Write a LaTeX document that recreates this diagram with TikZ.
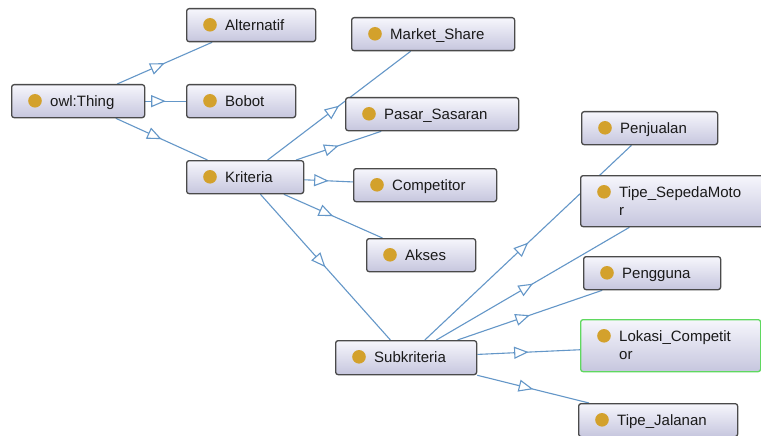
\documentclass[tikz,border=0pt]{standalone}
\usepackage{fontspec}
\setmainfont{Liberation Sans}
\usetikzlibrary{arrows.meta,decorations.markings,calc,backgrounds}
\definecolor{edgec}{HTML}{6497C8}
\definecolor{boxline}{HTML}{4A4A4A}
\definecolor{boxtop}{HTML}{F6F6FC}
\definecolor{boxbot}{HTML}{C6C6DE}
\definecolor{dotc}{HTML}{D3A12C}
\definecolor{txt}{HTML}{1A1A1A}
\definecolor{selc}{HTML}{5FD85F}
\tikzset{
  cbox/.style={rectangle, rounded corners=2.5pt, draw=boxline, line width=1.3pt,
    top color=boxtop, bottom color=boxbot, inner sep=0pt},
  ctext/.style={inner sep=0pt, font=\fontsize{15}{17.5}\selectfont, text=txt, anchor=base west},
  isa/.style={draw=edgec, line width=1.1pt, postaction={decorate},
    decoration={markings, mark=at position 0.5 with {\arrow{Triangle[length=14.5pt,width=12pt,fill=white]}}}},
}
\newcommand\onto[7][]{%
  \node[cbox, #1, minimum width=#5pt, minimum height=#6pt, anchor=north west] (#2) at (#3,#4) {};
  \fill[dotc] ($(#2.north west)+(24,16.8)$) circle (6.8pt);
  \node[ctext] (#2-t) at ($(#2.north west)+(39,22.5)$) {#7};
}
\begin{document}
\begin{tikzpicture}[x=1pt,y=-1pt]
\useasboundingbox (0,0) rectangle (761,436);
\onto{thing}{11}{84}{133}{33}{owl:Thing}
\onto{alt}{186}{8}{129}{33}{Alternatif}
\onto{bobot}{186}{84}{109}{33}{Bobot}
\onto{krit}{186}{160}{117}{33}{Kriteria}
\onto{mshare}{351}{17}{163}{33}{Market\_Share}
\onto{pasar}{345}{97}{173}{33}{Pasar\_Sasaran}
\onto{comp}{353}{168}{143}{33}{Competitor}
\onto{akses}{366}{238}{109}{33}{Akses}
\onto{penj}{581}{111}{136}{33}{Penjualan}
\onto{tsm}{580}{175}{187}{51}{\begin{tabular}[t]{@{}l@{}}Tipe\_SepedaMoto\\r\end{tabular}}
\onto{peng}{583}{256}{137}{33}{Pengguna}
\onto[draw=selc]{lokasi}{580}{319}{180}{52}{\begin{tabular}[t]{@{}l@{}}Lokasi\_Competit\\or\end{tabular}}
\onto{subk}{335}{340}{141}{34}{Subkriteria}
\onto{tjal}{578}{403}{159}{33}{Tipe\_Jalanan}
\begin{scope}[on background layer]
\fill[white] (0,0) rectangle (761,436);
\draw[isa] (thing) -- (alt);
\draw[isa] (thing) -- (bobot);
\draw[isa] (thing) -- (krit);
\draw[isa] (krit) -- (mshare);
\draw[isa] (krit) -- (pasar);
\draw[isa] (krit) -- (comp);
\draw[isa] (krit) -- (akses);
\draw[isa] (krit) -- (subk);
\draw[isa] (subk) -- (penj);
\draw[isa] (subk) -- (tsm);
\draw[isa] (subk) -- (peng);
\draw[isa] (subk) -- (lokasi);
\draw[isa] (subk) -- (tjal);
\end{scope}
\end{tikzpicture}
\end{document}
